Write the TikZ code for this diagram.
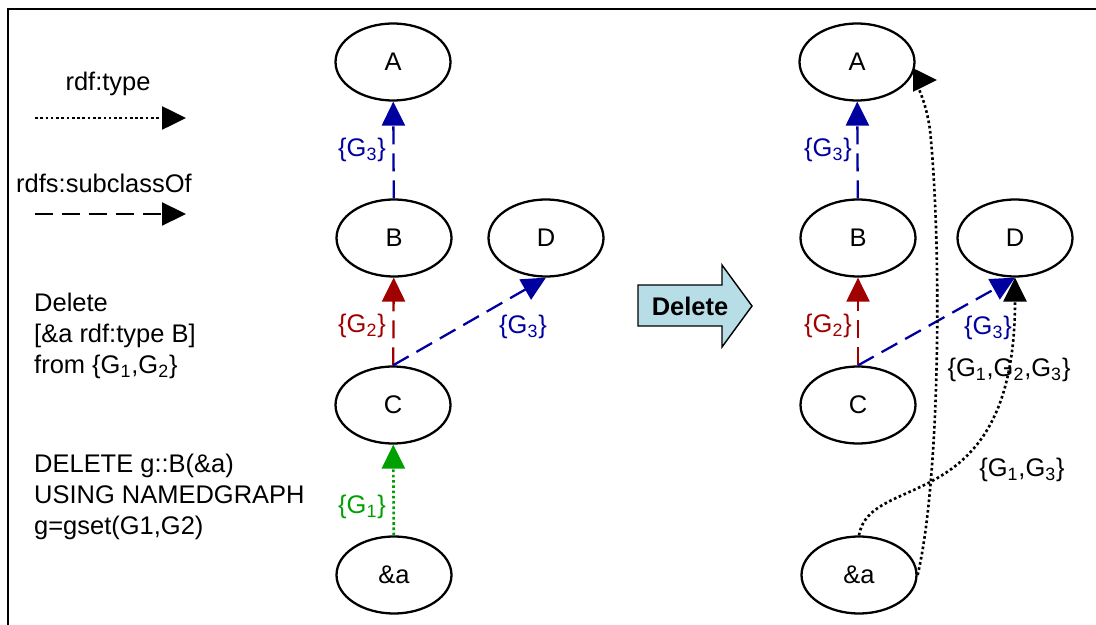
\documentclass[tikz,border=0pt]{standalone}
\usepackage{fontspec}
\setmainfont{Liberation Sans}
\usetikzlibrary{shapes.geometric,arrows.meta}
\definecolor{gblue}{RGB}{0,0,160}
\definecolor{gred}{RGB}{160,0,0}
\definecolor{ggreen}{RGB}{0,160,0}
\definecolor{arrowfill}{RGB}{183,222,230}
\newcommand{\gs}[1]{G\textsubscript{#1}}

\begin{document}
\begin{tikzpicture}[x=0.02cm,y=-0.02cm,
    font=\fontsize{14.5}{17.5}\selectfont,
    res/.style={ellipse,draw,line width=1.3pt,minimum width=2.3cm,minimum height=1.54cm,inner sep=0pt},
    tip/.style={-{Triangle[length=0.48cm,width=0.46cm]}},
    subc/.style={tip,line width=1.3pt,dash pattern=on 0.36cm off 0.18cm},
    typ/.style={tip,line width=1.5pt,dash pattern=on 1.5pt off 1.5pt}]
    \useasboundingbox (0,0) rectangle (1096,625);
    \draw [line width=1.6pt] (8,640) -- (8,9) -- (1110,9);

    % legend
    \node (ltype) at (108,84) {rdf:type};
    \coordinate (t1) at (35,118);
    \coordinate (t2) at (186,118);
    \draw [typ] (t1) -- (t2);
    \node (lsub) at (104,183) {rdfs:subclassOf};
    \coordinate (s1) at (35,214);
    \coordinate (s2) at (186,214);
    \draw [subc] (s1) -- (s2);

    \node [anchor=west,align=left] (txt1) at (28,336) {Delete\\{[}\&a rdf:type B{]}\\from \{\gs1,\gs2\}};
    \node [anchor=west,align=left] (txt2) at (28,497) {DELETE g::B(\&a)\\USING NAMEDGRAPH\\g=gset(G1,G2)};

    % before
    \node [res] (A) at (393,62) {A};
    \node [res] (B) at (394,238) {B};
    \node [res] (C) at (393,405) {C};
    \node [res] (D) at (546,238) {D};
    \node [res] (a) at (394,575) {\&a};
    \draw [subc,gblue] (B) -- (A);
    \draw [subc,gred] (C) -- (B);
    \draw [subc,gblue] (C.north) -- (D.south);
    \draw [typ,ggreen] (a) -- (C);
    \node [gblue] (g3a) at (362,150) {\{\gs3\}};
    \node [gred] (g2a) at (362,326) {\{\gs2\}};
    \node [gblue] (g3b) at (523,327) {\{\gs3\}};
    \node [ggreen] (g1a) at (362,507) {\{\gs1\}};

    % the big arrow
    \draw [fill=arrowfill,line width=0.8pt] (638,285) -- (722,285) -- (722,265) -- (752,306)
        -- (722,347) -- (722,326) -- (638,326) -- cycle;
    \node [font=\fontsize{14.5}{17.5}\selectfont\bfseries] (del) at (690,306) {Delete};

    % after
    \node [res] (A2) at (857,62) {A};
    \node [res] (B2) at (858,238) {B};
    \node [res] (C2) at (858,405) {C};
    \node [res] (D2) at (1015,238) {D};
    \node [res] (a2) at (859,575) {\&a};
    \coordinate (Atip) at (937,80);
    \draw [subc,gblue] (B2) -- (A2);
    \draw [subc,gred] (C2) -- (B2);
    \draw [subc,gblue] (C2.north) -- (D2.south);
    \draw [typ] (a2.east) .. controls (940,480) and (942,250) .. (930,130)
        .. controls (926,100) and (915,80) .. (Atip);
    \draw [typ] (a2.north) .. controls (870,470) and (1015,520) .. (D2.south);
    \node [gblue] (g3c) at (828,150) {\{\gs3\}};
    \node [gred] (g2c) at (828,326) {\{\gs2\}};
    \node [gblue] (g3d) at (988,328) {\{\gs3\}};
    \node (g123) at (1009,370) {\{\gs1,\gs2,\gs3\}};
    \node (g13) at (1022,470) {\{\gs1,\gs3\}};
\end{tikzpicture}
\end{document}
